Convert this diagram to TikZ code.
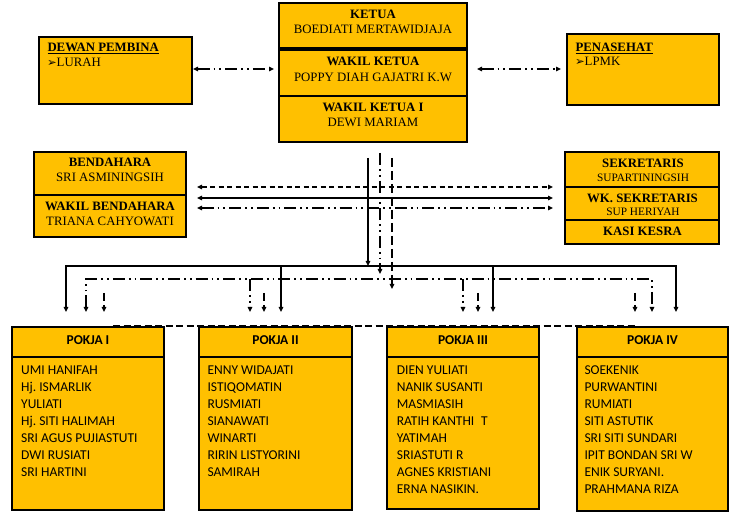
\documentclass[tikz,border=0pt]{standalone}
\usepackage{fontspec}
\setmainfont{Liberation Serif}
\newfontfamily\calfont{Carlito}
\newfontfamily\dvsym{DejaVu Sans}
\usetikzlibrary{arrows.meta}
\definecolor{gold}{HTML}{FFC000}
\frenchspacing
\begin{document}
\begin{tikzpicture}[x=1pt,y=-1pt,
  box/.style={draw, fill=gold, line width=1.2pt, inner sep=0pt},
  tn/.style={inner sep=0pt, anchor=base, font=\fontsize{12.8}{15}\selectfont},
  tb/.style={tn, font=\fontsize{12.8}{15}\selectfont\bfseries},
  ts/.style={tn, font=\fontsize{11.3}{14}\selectfont},
  pk/.style={inner sep=0pt, anchor=base west, font=\calfont\fontsize{13.5}{17}\selectfont},
  pkh/.style={inner sep=0pt, anchor=base, font=\calfont\fontsize{13.5}{17}\selectfont\bfseries},
  bul/.style={inner sep=0pt, anchor=base west, font=\dvsym\fontsize{11.5}{13}\selectfont},
  ln/.style={line width=1.3pt},
  dsh/.style={ln, dash pattern=on 5pt off 3.5pt},
  ddt/.style={ln, dash pattern=on 12pt off 4pt on 1.8pt off 4pt on 1.8pt off 4pt},
  >={Triangle[length=5pt,width=4.5pt]}
]
\useasboundingbox (0,0) rectangle (737,518);

% top boxes
\node[box, minimum width=188pt, minimum height=45pt] (ketua) at (373,25.5) {};
\node[box, minimum width=188pt, minimum height=46pt] (wakil) at (373,73) {};
\node[box, minimum width=188pt, minimum height=46pt] (wakil1) at (373,119) {};
\node[box, minimum width=153pt, minimum height=67pt] (dewan) at (115.5,70.5) {};
\node[box, minimum width=152pt, minimum height=71pt] (penasehat) at (643,69.5) {};
\node[box, minimum width=152pt, minimum height=43pt] (bend) at (110,173.5) {};
\node[box, minimum width=152pt, minimum height=42pt] (wkbend) at (110,216) {};
\node[box, minimum width=154pt, minimum height=35pt] (sek) at (642,169.5) {};
\node[box, minimum width=154pt, minimum height=33pt] (wksek) at (642,203.5) {};
\node[box, minimum width=154pt, minimum height=24pt] (kasi) at (642,232) {};

% top texts
\node[tb] (tketua) at (373,19) {KETUA};
\node[tn] (tboe) at (373,33.7) {BOEDIATI MERTAWIDJAJA};
\node[tb] (twk) at (373,66) {WAKIL KETUA};
\node[tn] (tpop) at (373,81.3) {POPPY DIAH GAJATRI K.W};
\node[tb] (twk1) at (373,112) {WAKIL KETUA I};
\node[tn] (tdewi) at (373,127) {DEWI MARIAM};

\node[tb, anchor=base west] (tdewan) at (47.3,51.3) {\underline{DEWAN PEMBINA}};
\node[bul] (ar1) at (47,66.3) {➢};
\node[tn, anchor=base west] (tlurah) at (56.5,66.7) {LURAH};
\node[tb, anchor=base west] (tpen) at (575.3,51.3) {\underline{PENASEHAT}};
\node[bul] (ar2) at (575,65.8) {➢};
\node[tn, anchor=base west] (tlpmk) at (584.5,66) {LPMK};

\node[tb] (tbend) at (110,166.7) {BENDAHARA};
\node[tn] (tsri) at (110,181.7) {SRI ASMININGSIH};
\node[tb] (twbend) at (110,211) {WAKIL BENDAHARA};
\node[tn] (ttri) at (110,226) {TRIANA CAHYOWATI};

\node[tb] (tsek) at (643,167.7) {SEKRETARIS};
\node[ts] (tsup) at (643,181.7) {SUPARTININGSIH};
\node[tb] (twsek) at (642.5,202.3) {WK. SEKRETARIS};
\node[ts] (tsuph) at (643,216) {SUP HERIYAH};
\node[tb] (tkasi) at (642.5,235.3) {KASI KESRA};

% pokja boxes
\node[box, minimum width=152pt, minimum height=30pt] (p1h) at (88,342) {};
\node[box, minimum width=152pt, minimum height=153pt] (p1b) at (88,433.5) {};
\node[box, minimum width=153pt, minimum height=30pt] (p2h) at (275.5,342) {};
\node[box, minimum width=153pt, minimum height=153pt] (p2b) at (275.5,433.5) {};
\node[box, minimum width=152pt, minimum height=30pt] (p3h) at (463,342) {};
\node[box, minimum width=152pt, minimum height=152pt] (p3b) at (463,433) {};
\node[box, minimum width=151pt, minimum height=30pt] (p4h) at (652.5,342) {};
\node[box, minimum width=151pt, minimum height=154pt] (p4b) at (652.5,434) {};

\node[pkh] (hp1) at (88,345) {POKJA I};
\node[pkh] (hp2) at (275.5,345) {POKJA II};
\node[pkh] (hp3) at (463,345) {POKJA III};
\node[pkh] (hp4) at (652.5,345) {POKJA IV};

\foreach \t [count=\i] in {UMI HANIFAH, Hj. ISMARLIK, YULIATI, Hj. SITI HALIMAH, SRI AGUS PUJIASTUTI, DWI RUSIATI, SRI HARTINI}
  \node[pk] (a\i) at (21,{375+17*(\i-1)}) {\t};
\foreach \t [count=\i] in {ENNY WIDAJATI, ISTIQOMATIN, RUSMIATI, SIANAWATI, WINARTI, RIRIN LISTYORINI, SAMIRAH}
  \node[pk] (b\i) at (207.3,{375+17*(\i-1)}) {\t};
\foreach \t [count=\i] in {DIEN YULIATI, NANIK SUSANTI, MASMIASIH, {RATIH KANTHI\enspace T}, YATIMAH, SRIASTUTI R, AGNES KRISTIANI, ERNA NASIKIN.}
  \node[pk] (c\i) at (396.7,{374.5+17*(\i-1)}) {\t};
\foreach \t [count=\i] in {SOEKENIK, PURWANTINI, RUMIATI, SITI ASTUTIK, SRI SITI SUNDARI, IPIT BONDAN SRI W, ENIK SURYANI., PRAHMANA RIZA}
  \node[pk] (d\i) at (584.3,{375+17*(\i-1)}) {\t};

% connectors
\coordinate (dwL) at (193,69); \coordinate (dwR) at (274,69);
\coordinate (pnL) at (477,69); \coordinate (pnR) at (561,69);
\draw[ddt, <->] (dwL) -- (dwR);
\draw[ddt, <->] (pnL) -- (pnR);

\coordinate (hL1) at (197,187); \coordinate (hR1) at (553,187);
\coordinate (hL2) at (197,198); \coordinate (hR2) at (553,198);
\coordinate (hL3) at (197,208); \coordinate (hR3) at (553,208);
\draw[dsh, <->] (hL1) -- (hR1);
\draw[ln, <->] (hL2) -- (hR2);
\draw[ddt, <->] (hL3) -- (hR3);

\coordinate (vs0) at (368,158); \coordinate (vs1) at (368,266);
\coordinate (vd0) at (380,153); \coordinate (vd1) at (380,274);
\coordinate (vh0) at (392,158); \coordinate (vh1) at (392,289);
\draw[ln, ->] (vs0) -- (vs1);
\draw[ddt, ->] (vd0) -- (vd1);
\draw[dsh, dash pattern=on 9pt off 4pt, ->] (vh0) -- (vh1);

% solid bus
\coordinate (sA) at (66,312); \coordinate (sB) at (66,266);
\coordinate (sC) at (676,266); \coordinate (sD) at (676,312);
\draw[ln, <->] (sA) -- (sB) -- (sC) -- (sD);
\draw[ln, ->] (281,266) coordinate (s2t) -- (281,312) coordinate (s2b);
\draw[ln, ->] (493,266) coordinate (s3t) -- (493,312) coordinate (s3b);

% dash-dot bus
\coordinate (kA) at (86,312); \coordinate (kB) at (86,279);
\coordinate (kC) at (652,279); \coordinate (kD) at (652,312);
\draw[ddt, <->] (kA) -- (kB) -- (kC) -- (kD);
\draw[ddt, ->] (250,279) coordinate (k2t) -- (250,312) coordinate (k2b);
\draw[ddt, ->] (463,279) coordinate (k3t) -- (463,312) coordinate (k3b);

% short dashed drops
\foreach \x [count=\i] in {104,264,478,635}
  \draw[ln, dash pattern=on 8pt off 4pt, ->] (\x,293) coordinate (q\i t) -- (\x,312) coordinate (q\i b);

% bottom dashed line
\coordinate (bdL) at (113,326); \coordinate (bdR) at (638,326);
\draw[line width=1.8pt, dash pattern=on 7pt off 3.5pt] (bdL) -- (bdR);
\end{tikzpicture}
\end{document}
